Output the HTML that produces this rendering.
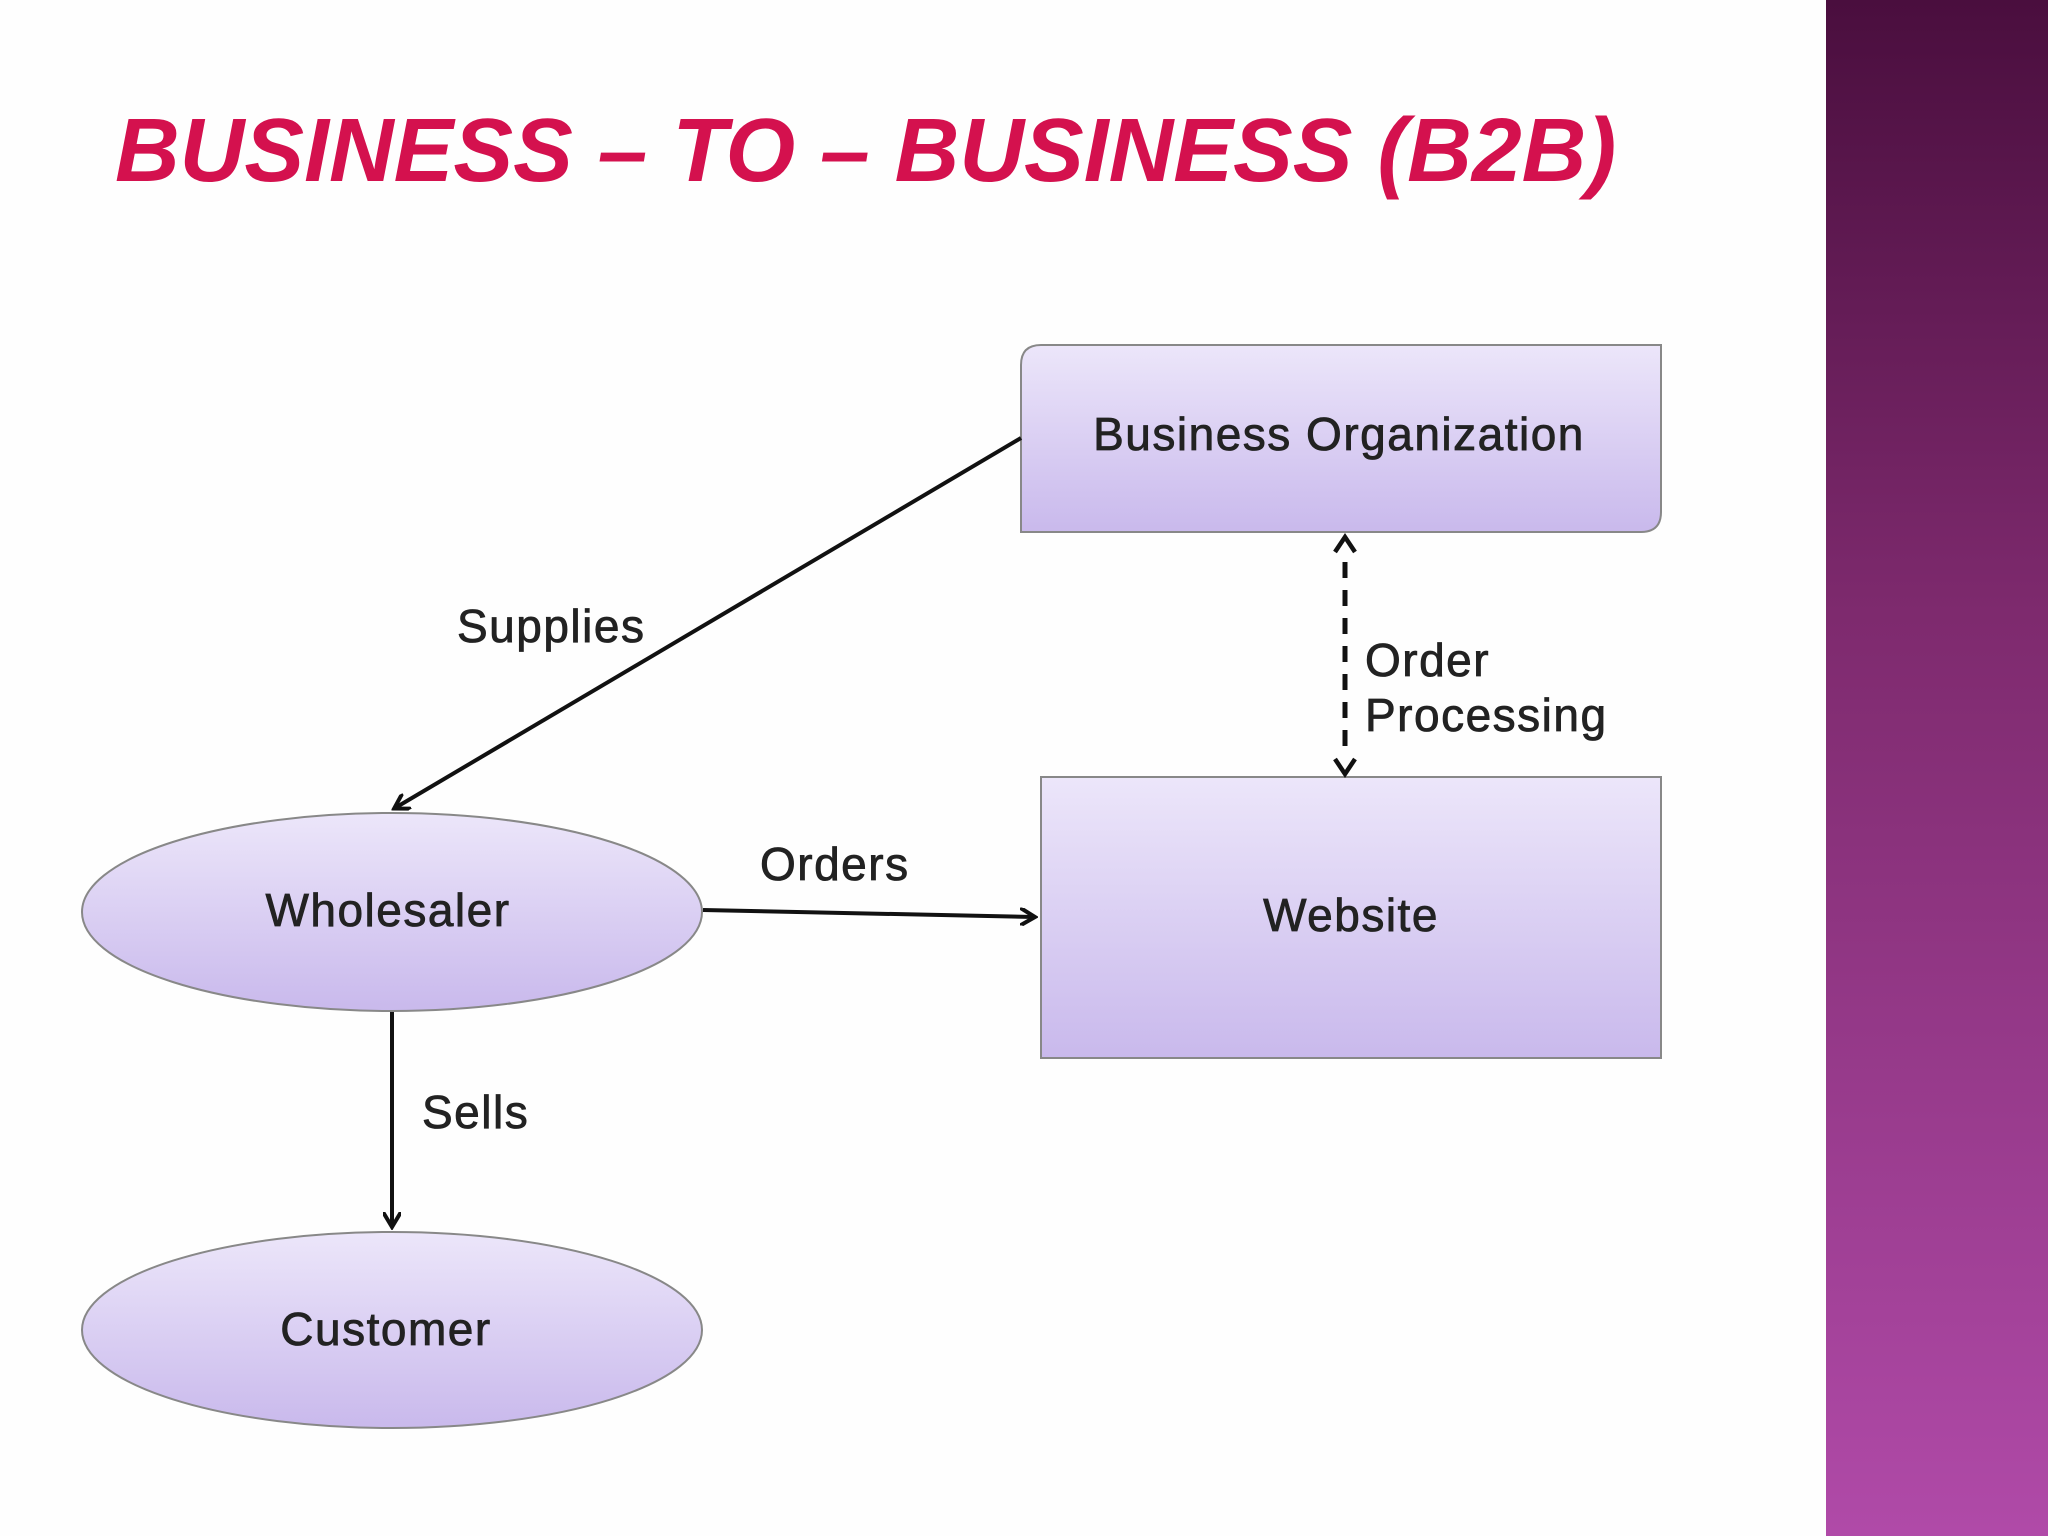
<!DOCTYPE html>
<html><head><meta charset="utf-8"><style>
html,body{margin:0;padding:0}
body{width:2048px;height:1536px;position:relative;background:#fefefe;overflow:hidden;font-family:"Liberation Sans",sans-serif}
.side{position:absolute;left:1826px;top:0;width:222px;height:1536px;background:linear-gradient(#4a0e3e,#7e2a6e 40%,#b04aa8)}
.title{position:absolute;left:115px;top:100px;font-size:90px;font-weight:bold;font-style:italic;color:#d4114e;white-space:nowrap;transform-origin:0 0;transform:scaleX(0.995)}
</style></head><body>
<div class="title">BUSINESS – TO – BUSINESS (B2B)</div>
<div class="side"></div>
<svg width="2048" height="1536" style="position:absolute;left:0;top:0">
<defs>
<linearGradient id="g" x1="0" y1="0" x2="0" y2="1"><stop offset="0" stop-color="#ece6fa"/><stop offset="1" stop-color="#c9b9ec"/></linearGradient>
<marker id="b" markerWidth="18" markerHeight="18" refX="14" refY="9" orient="auto" markerUnits="userSpaceOnUse"><path d="M0,0 L15,9 L0,18" fill="none" stroke="#111" stroke-width="4"/></marker>
</defs>
<path d="M1041,345 H1661 V512 Q1661,532 1641,532 H1021 V365 Q1021,345 1041,345 Z" fill="url(#g)" stroke="#888" stroke-width="2"/>
<rect x="1041" y="777" width="620" height="281" fill="url(#g)" stroke="#888" stroke-width="2"/>
<ellipse cx="392" cy="912" rx="310" ry="99" fill="url(#g)" stroke="#888" stroke-width="2"/>
<ellipse cx="392" cy="1330" rx="310" ry="98" fill="url(#g)" stroke="#888" stroke-width="2"/>
<line x1="1021" y1="438" x2="395" y2="808" stroke="#111" stroke-width="4" marker-end="url(#b)"/>
<line x1="703" y1="910" x2="1034" y2="917" stroke="#111" stroke-width="4" marker-end="url(#b)"/>
<line x1="392" y1="1012" x2="392" y2="1226" stroke="#111" stroke-width="4" marker-end="url(#b)"/>
<line x1="1345" y1="562" x2="1345" y2="752" stroke="#111" stroke-width="5" stroke-dasharray="16,12"/>
<path d="M1335,552 L1345,537 L1355,552" fill="none" stroke="#111" stroke-width="4.5"/>
<path d="M1335,759 L1345,774 L1355,759" fill="none" stroke="#111" stroke-width="4.5"/>
<g font-family="Liberation Sans, sans-serif" font-size="46" fill="#222" stroke="#222" stroke-width="0.8" letter-spacing="1.5">
<text x="1339" y="450" text-anchor="middle">Business Organization</text>
<text x="1351" y="931" text-anchor="middle">Website</text>
<text x="388" y="926" text-anchor="middle">Wholesaler</text>
<text x="386" y="1345" text-anchor="middle">Customer</text>
<text x="457" y="642">Supplies</text>
<text x="760" y="880">Orders</text>
<text x="422" y="1128">Sells</text>
<text x="1365" y="676">Order</text>
<text x="1365" y="731">Processing</text>
</g>
</svg>
</body></html>
